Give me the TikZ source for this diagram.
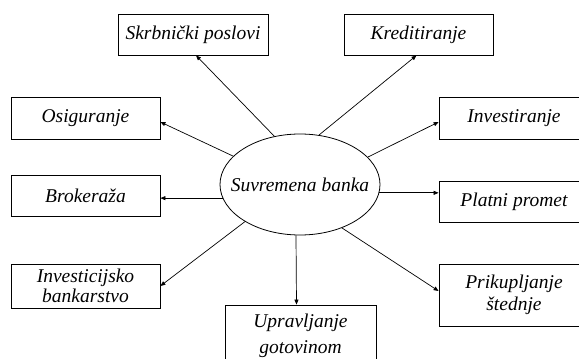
\documentclass[tikz,border=0pt]{standalone}
\usepackage{fontspec}
\setmainfont{Liberation Serif}
\usetikzlibrary{shapes.geometric,arrows.meta}
\begin{document}
\begin{tikzpicture}[x=1pt,y=-1pt,
  every node/.style={font=\itshape\fontsize{19.5}{20}\selectfont},
  box/.style={draw,line width=0.8pt,rectangle,inner sep=0pt,align=center,minimum width=#1},
  box/.default=150pt,
  conn/.style={line width=0.7pt,-{Triangle[length=5pt,width=4pt]}}]
\useasboundingbox (0,0) rectangle (579,359);
\clip (0,0) rectangle (579,359);
\node[draw,ellipse,line width=0.8pt,minimum width=160pt,minimum height=101pt,inner xsep=-14pt,inner ysep=0pt] (e) at (300,184.5) {Suvremena banka};
\node[box,minimum height=41pt] (sk) at (193,34.5) {Skrbnički poslovi};
\node[box=149pt,minimum height=41pt] (kr) at (418.5,34.5) {Kreditiranje};
\node[box=149pt,minimum height=42pt] (os) at (85.5,118) {Osiguranje};
\node[box,minimum height=42pt] (inv) at (514,118) {Investiranje};
\node[box=149pt,minimum height=41pt] (br) at (85.5,195.5) {Brokeraža};
\node[box,minimum height=41pt] (pl) at (514,202) {Platni promet};
\node[box=149pt,minimum height=44pt,font=\itshape\fontsize{19.5}{20}\selectfont] (ib) at (85.5,286) {Investicijsko\\bankarstvo};
\node[box,minimum height=62pt,font=\itshape\fontsize{19.5}{22}\selectfont] (ps) at (514,295) {Prikupljanje\\štednje};
\node[box=151pt,minimum height=62pt,font=\itshape\fontsize{19.5}{26}\selectfont] (ug) at (300.5,336) {Upravljanje\\gotovinom};
\draw[conn] (e.118.5) -- ([xshift=3pt]sk.south);
\draw[conn] (e.69.7) -- ([xshift=-2pt]kr.south);
\draw[conn] (e.157.6) -- ([yshift=-4pt]os.east);
\draw[conn] (e.22.4) -- ([yshift=-4pt]inv.west);
\draw[conn] (e.190) -- (br.east |- e.190);
\draw[conn] (e.354) -- (pl.west |- e.354);
\draw[conn] (e.214) -- (ib.east);
\draw[conn] (e.314.7) -- ([yshift=4pt]ps.west);
\draw[conn] ([xshift=-4pt]e.south) -- ([xshift=-4pt]ug.north);
\end{tikzpicture}
\end{document}
